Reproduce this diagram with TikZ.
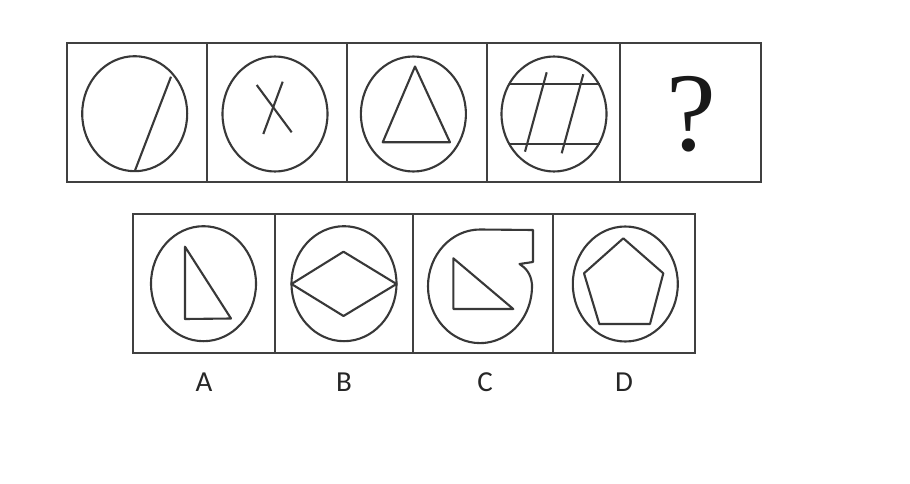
\documentclass[tikz,border=0pt]{standalone}
\usepackage{fontspec}
\newfontfamily\labelfont{Carlito}
\newfontfamily\qfont{Liberation Serif}
\begin{document}
\begin{tikzpicture}[x=1pt,y=-1pt,
  fig/.style={draw=black!78, line width=2.1pt, line join=round},
  frame/.style={draw=black!75, line width=2.4pt},
  ring/.style={fig, x radius=52.5, y radius=57.5},
  optlabel/.style={font=\labelfont\fontsize{29}{29}\selectfont, text=black!85, inner sep=0pt}]
\useasboundingbox (0,0) rectangle (910,484);
% top row frames
\draw[frame] (67,43) rectangle (761,182);
\foreach \x in {207,347,487,620} \draw[frame] (\x,43) -- (\x,182);
% bottom row frames
\draw[frame] (133,214) rectangle (695,353);
\foreach \x in {275,413,553} \draw[frame] (\x,214) -- (\x,353);
% cell 1
\draw[ring] (134.7,113.7) ellipse [];
\draw[fig] (171,76.7) -- (135,170.5);
% cell 2
\draw[ring] (275,114) ellipse [];
\draw[fig] (256.7,85) -- (291.7,132.3);
\draw[fig] (282.7,81.7) -- (263.3,134);
% cell 3
\draw[ring] (413.4,114) ellipse [];
\draw[fig] (415,66.5) -- (382.7,142.3) -- (450,142.3) -- cycle;
% cell 4
\draw[ring] (554,114) ellipse [];
\draw[fig] (508.5,84.3) -- (599.5,84.3);
\draw[fig] (508.5,144.3) -- (599.5,144.3);
\draw[fig] (546.7,72.3) -- (525,151.7);
\draw[fig] (583.3,74.3) -- (561.7,153.3);
% cell 5
\node[inner sep=0pt, text=black!90, font=\qfont\fontsize{112}{112}\selectfont] (qm) at (691.5,114) {?};
% option A
\draw[ring] (203.5,283.7) ellipse [];
\draw[fig] (185,246.7) -- (185,319) -- (231,318.5) -- cycle;
% option B
\draw[ring] (344,283.7) ellipse [];
\draw[fig] (291.5,284) -- (343.5,251.7) -- (396.5,284) -- (343.5,316) -- cycle;
% option C
\draw[fig] (480,229.5)
  arc[start angle=-90, end angle=-362, x radius=52, y radius=56.8]
  .. controls (531,274) and (526,268) .. (519.5,264)
  -- (533,262) -- (533,230) -- cycle;
\draw[fig] (453.3,258.3) -- (453.3,309) -- (513.3,309) -- cycle;
% option D
\draw[ring] (625.3,284) ellipse [];
\draw[fig] (623.3,238.3) -- (663.3,273.3) -- (650,324) -- (599.3,324) -- (584,273.3) -- cycle;
% labels
\node[optlabel] (la) at (204,381.7) {A};
\node[optlabel] (lb) at (344,381.7) {B};
\node[optlabel] (lc) at (485,381.7) {C};
\node[optlabel] (ld) at (624,381.7) {D};
\end{tikzpicture}
\end{document}
